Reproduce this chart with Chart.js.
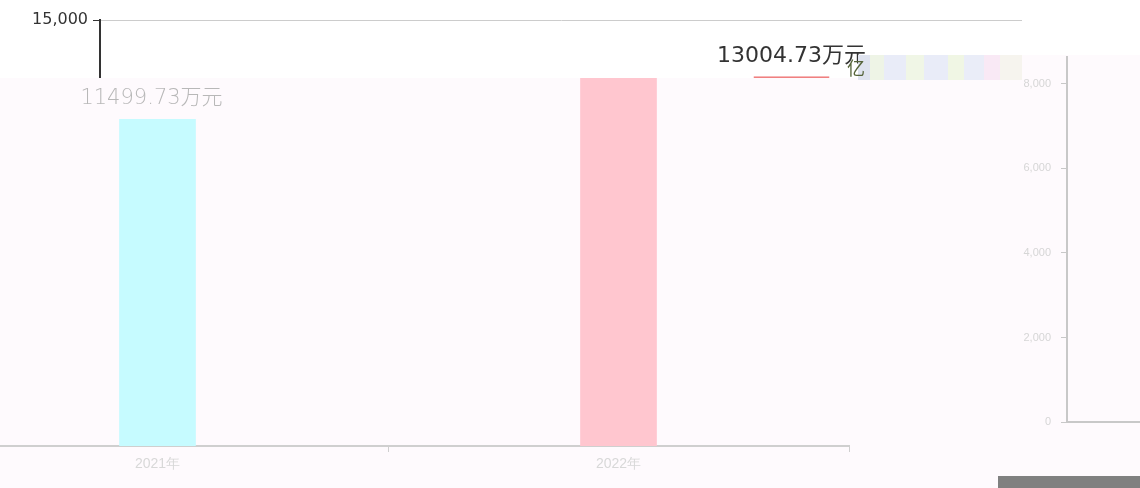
<!DOCTYPE html>
<html>
<head>
<meta charset="utf-8">
<script src="https://cdn.jsdelivr.net/npm/chart.js@4.4.1/dist/chart.umd.min.js"></script>
<style>
  html, body { margin: 0; padding: 0; background: #ffffff; }
  #page { position: relative; width: 1140px; height: 488px; overflow: hidden; background: #ffffff; }
  .clip { position: absolute; overflow: hidden; }
  .clip canvas { position: absolute; }
  #topClip { left: 0; top: 0; width: 1140px; height: 78px; }
  #topClip canvas { left: 0; top: 0; }
  #bottomClip { left: 0; top: 78px; width: 1140px; height: 410px; background: #fefafd; }
  #bottomClip canvas { left: -173px; top: -78px; }
  #rightPink { position: absolute; left: 858px; top: 55px; width: 282px; height: 23px; background: #fefafd; }
  #strip { position: absolute; left: 858px; top: 55px; width: 164px; height: 25px;
    background: linear-gradient(90deg, #dfe3ef 0 12px, #eef4e6 12px 26px, #e9ecf8 26px 48px, #f0f6e6 48px 66px,
      #e9ecf8 66px 90px, #f0f6e4 90px 106px, #eaedf8 106px 126px, #f9e9f5 126px 142px, #f6f4ee 142px 164px); }
  #glyph { position: absolute; left: 847px; top: 56px; font: 18px "Noto Sans CJK SC"; color: #56643a; line-height: 22px; }
  #rightClip { left: 990px; top: 55px; width: 150px; height: 384px; }
  #rightClip canvas { left: 0; top: -15px; }
  #greyBar { position: absolute; left: 998px; top: 476px; width: 142px; height: 12px; background: #808080; }
</style>
</head>
<body>
<div id="page">
  <div id="bottomClip" class="clip"><canvas id="bottomChart" width="1140" height="488"></canvas></div>
  <div id="topClip" class="clip"><canvas id="topChart" width="1140" height="488"></canvas></div>
  <div id="rightPink"></div>
  <div id="strip"></div>
  <span id="glyph">亿</span>
  <div id="rightClip" class="clip"><canvas id="rightChart" width="150" height="399"></canvas></div>
  <div id="greyBar"></div>
</div>
<script>
// Données
const years = ['2021年', '2022年'];
const revenue = [11499.73, 13004.73];
const barColors = ['#c6fbff', '#ffc6cf'];
const unit = '万元';
const mainTicks = [0, 3000, 6000, 9000, 12000, 15000];
const rightTicks = [0, 2000, 4000, 6000, 8000];

// Étiquettes de valeur au-dessus des barres
function valueLabels(color, font, dx) {
    return {
        id: 'valueLabels',
        afterDatasetsDraw(chart) {
            const ctx = chart.ctx;
            const meta = chart.getDatasetMeta(0);
            ctx.save();
            ctx.font = font;
            ctx.fillStyle = color;
            ctx.textAlign = 'center';
            ctx.textBaseline = 'alphabetic';
            meta.data.forEach((bar, i) => {
                ctx.fillText(revenue[i].toFixed(2) + unit, bar.x + dx, bar.y - 15);
            });
            ctx.restore();
        }
    };
}

// Graphique principal (même géométrie pour les deux morceaux)
function createMainChart(id, style) {
    const ctx = document.getElementById(id).getContext('2d');
    return new Chart(ctx, {
        type: 'bar',
        data: {
            labels: years,
            datasets: [{
                data: revenue,
                backgroundColor: barColors,
                borderColor: style.borderColor,
                borderWidth: style.borderWidth,
                borderSkipped: false,
                barThickness: 76
            }]
        },
        options: {
            responsive: false,
            animation: false,
            devicePixelRatio: 1,
            layout: { padding: { left: 0, top: 20, right: 118, bottom: 0 } },
            plugins: { legend: { display: false }, tooltip: { enabled: false } },
            scales: {
                x: {
                    afterFit: scale => { scale.height = 42; },
                    border: { display: style.showX, color: '#cfcfcf', width: 2 },
                    grid: { display: style.showX, drawOnChartArea: false, tickLength: 6, tickColor: '#cfcfcf' },
                    ticks: { display: style.showX, color: '#d8d8d8', font: { size: 14 }, padding: 4 }
                },
                y: {
                    min: 0,
                    max: 15000,
                    afterFit: scale => { scale.width = 100; },
                    afterBuildTicks: scale => { scale.ticks = mainTicks.map(v => ({ value: v })); },
                    border: { display: style.showY, color: '#333333', width: 2 },
                    grid: {
                        display: style.showY,
                        color: c => c.tick && c.tick.value === 15000 ? '#cccccc' : 'rgba(0,0,0,0)',
                        tickColor: '#333333',
                        tickLength: 7
                    },
                    ticks: {
                        display: style.showY,
                        color: '#333333',
                        padding: 5,
                        font: { family: 'DejaVu Sans', size: 16 }
                    }
                }
            }
        },
        plugins: [valueLabels(style.labelColor, style.labelFont, style.labelDx)]
    });
}

createMainChart('topChart', {
    showX: false,
    showY: true,
    borderColor: ['#c6fbff', '#f08080'],
    borderWidth: { top: 2, left: 0, right: 0, bottom: 0 },
    labelColor: '#333333',
    labelFont: '22px "DejaVu Sans", "Noto Sans CJK SC"',
    labelDx: 0
});

createMainChart('bottomChart', {
    showX: true,
    showY: false,
    borderColor: barColors,
    borderWidth: 0,
    labelColor: '#b8b8b8',
    labelFont: '200 21px "DejaVu Sans", "Noto Sans CJK SC"',
    labelDx: -6
});

// Petit axe à droite
new Chart(document.getElementById('rightChart').getContext('2d'), {
    type: 'bar',
    data: { labels: [], datasets: [{ data: [] }] },
    options: {
        responsive: false,
        animation: false,
        devicePixelRatio: 1,
        layout: { padding: 0 },
        plugins: { legend: { display: false }, tooltip: { enabled: false } },
        scales: {
            x: {
                type: 'linear',
                min: 0,
                max: 1,
                afterFit: scale => { scale.height = 13; },
                border: { color: '#c8c8c8', width: 2 },
                grid: { display: false },
                ticks: { display: false }
            },
            y: {
                min: 0,
                max: 8635,
                afterFit: scale => { scale.width = 77; },
                afterBuildTicks: scale => { scale.ticks = rightTicks.map(v => ({ value: v })); },
                border: { color: '#c8c8c8', width: 2 },
                grid: { drawOnChartArea: false, tickLength: 6, tickColor: '#c8c8c8' },
                ticks: { color: '#d6d6d6', padding: 10, font: { size: 11 } }
            }
        }
    }
});
</script>
</body>
</html>
